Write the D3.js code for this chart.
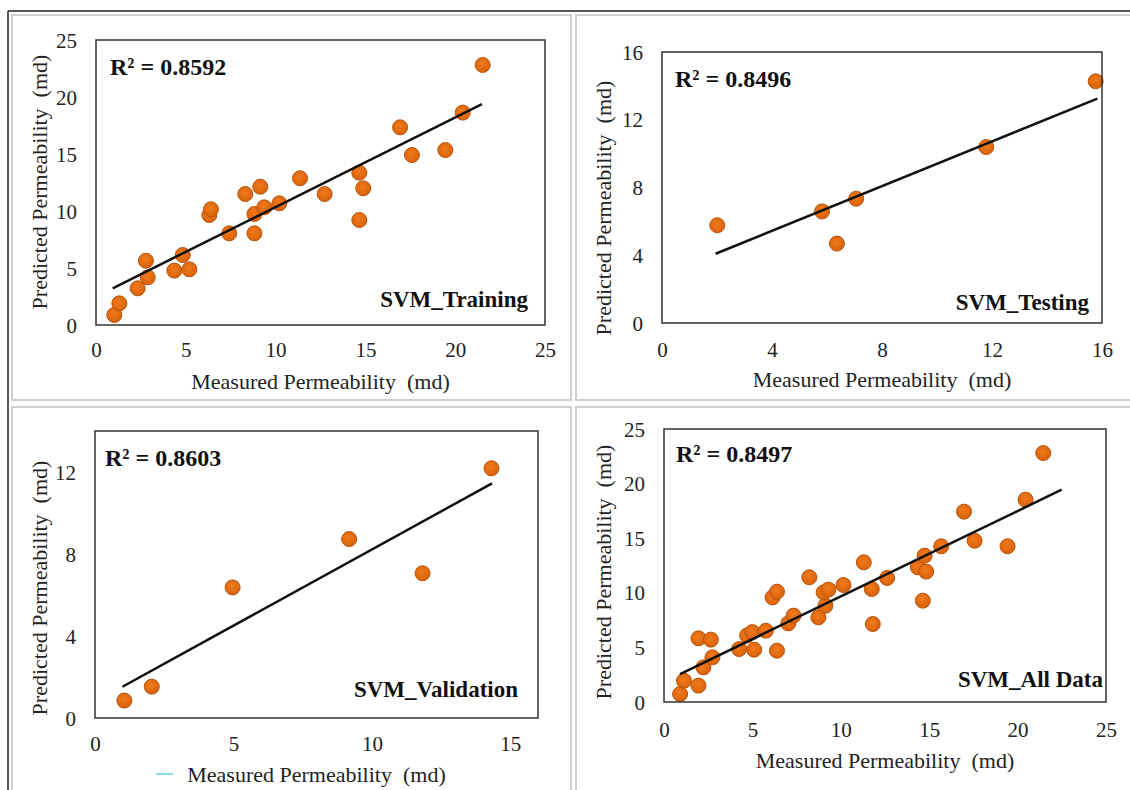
<!DOCTYPE html>
<html>
<head>
<meta charset="utf-8">
<script src="https://cdn.jsdelivr.net/npm/d3@7"></script>
<style>
  body { margin: 0; background: #fff; }
  svg { display: block; }
</style>
</head>
<body>
<div id="chart"></div>
<script>
// data (measured vs predicted permeability, md)
const trainX = [1.02, 1.30, 2.32, 2.78, 2.88, 4.36, 4.83, 5.20, 6.31, 6.40, 7.42, 8.31, 8.82, 8.82, 9.15, 9.37, 10.21, 11.36, 12.73, 14.66, 14.66, 14.88, 16.93, 17.59, 19.45, 20.42, 21.53];
const trainY = [0.88, 1.90, 3.22, 5.64, 4.18, 4.77, 6.14, 4.88, 9.65, 10.15, 8.04, 11.49, 9.74, 8.04, 12.13, 10.32, 10.67, 12.87, 11.49, 13.36, 9.21, 11.99, 17.34, 14.91, 15.35, 18.63, 22.81];

const testX = [2.01, 5.82, 6.36, 7.06, 11.79, 15.77];
const testY = [5.77, 6.59, 4.69, 7.34, 10.39, 14.27];

const validX = [1.06, 2.05, 4.97, 9.18, 11.83, 14.32];
const validY = [0.85, 1.53, 6.37, 8.73, 7.06, 12.18];

const allX = [0.91, 1.13, 1.95, 1.95, 2.23, 2.65, 2.74, 4.25, 4.70, 5.00, 5.10, 5.76, 6.39, 6.14, 6.39, 7.03, 7.33, 8.22, 8.73, 9.13, 9.03, 9.30, 10.15, 11.30, 11.75, 11.81, 12.62, 14.36, 14.74, 14.83, 14.64, 15.68, 16.97, 17.57, 19.43, 20.45, 21.45];
const allY = [0.73, 1.95, 1.50, 5.83, 3.17, 5.71, 4.09, 4.85, 6.10, 6.40, 4.79, 6.53, 4.70, 9.58, 10.10, 7.20, 7.91, 11.42, 7.75, 8.82, 10.04, 10.29, 10.71, 12.79, 10.35, 7.14, 11.36, 12.33, 13.40, 11.94, 9.28, 14.26, 17.43, 14.77, 14.26, 18.53, 22.80];

// linear trend lines as drawn (slope, intercept, x range)
const trendSlope = [0.786, 0.660, 0.743, 0.782];
const trendIntercept = [2.49, 2.80, 0.79, 1.85];
const trendFrom = [0.93, 1.95, 0.99, 0.91];
const trendTo = [21.49, 15.83, 14.34, 22.49];

const r2Labels = ["R\u00b2 = 0.8592", "R\u00b2 = 0.8496", "R\u00b2 = 0.8603", "R\u00b2 = 0.8497"];
const panelNames = ["SVM_Training", "SVM_Testing", "SVM_Validation", "SVM_All Data"];
const xMax = [25, 16, 16, 25];
const yMax = [25, 16, 14, 25];
const xTicks = [[0, 5, 10, 15, 20, 25], [0, 4, 8, 12, 16], [0, 5, 10, 15], [0, 5, 10, 15, 20, 25]];
const yTicks = [[0, 5, 10, 15, 20, 25], [0, 4, 8, 12, 16], [0, 4, 8, 12], [0, 5, 10, 15, 20, 25]];
const xTitle = "Measured Permeability\u00a0\u00a0(md)";
const yTitle = "Predicted Permeability\u00a0\u00a0(md)";

const seriesX = [trainX, testX, validX, allX];
const seriesY = [trainY, testY, validY, allY];

// layout of each panel's plot box in page pixels
const boxes = [
  { l: 96, r: 545, t: 40, b: 325, yTitleX: 39, yTitleY: 182, xTitleY: 389, xTickY: 357, r2X: 110, r2Y: 75, nameR: 528, nameY: 307 },
  { l: 662, r: 1102, t: 52, b: 323, yTitleX: 603, yTitleY: 208, xTitleY: 387, xTickY: 357, r2X: 675, r2Y: 87, nameR: 1089, nameY: 310 },
  { l: 95, r: 538, t: 431, b: 718, yTitleX: 39, yTitleY: 588, xTitleY: 782, xTickY: 751, r2X: 105, r2Y: 466, nameR: 518, nameY: 697 },
  { l: 664, r: 1106, t: 429, b: 702, yTitleX: 603, yTitleY: 572, xTitleY: 768, xTickY: 737, r2X: 676, r2Y: 462, nameR: 1103, nameY: 687 }
];

const width = 1130, height = 790;
const serif = "'Liberation Serif', 'Times New Roman', serif";

const svg = d3.select("#chart").append("svg")
  .attr("width", width)
  .attr("height", height)
  .style("font-family", serif);

const grad = svg.append("defs").append("radialGradient")
  .attr("id", "dot").attr("cx", "45%").attr("cy", "40%").attr("r", "60%");
grad.append("stop").attr("offset", "0%").attr("stop-color", "#f07a1c");
grad.append("stop").attr("offset", "100%").attr("stop-color", "#d9620b");

// outer frame (black on top and left) and light grey panel boxes
svg.append("line").attr("x1", 8).attr("x2", width).attr("y1", 11).attr("y2", 11)
  .attr("stroke", "#222").attr("stroke-width", 1.5);
svg.append("line").attr("x1", 8).attr("x2", 8).attr("y1", 11).attr("y2", height)
  .attr("stroke", "#222").attr("stroke-width", 1.5);

const cells = [[12, 15, 559, 385], [576, 15, 560, 385], [12, 407, 559, 390], [576, 407, 560, 390]];
svg.append("g").selectAll("rect").data(cells).join("rect")
  .attr("x", d => d[0]).attr("y", d => d[1])
  .attr("width", d => d[2]).attr("height", d => d[3])
  .attr("fill", "none").attr("stroke", "#cfcfcf").attr("stroke-width", 2);

boxes.forEach((bx, i) => {
  const x = d3.scaleLinear().domain([0, xMax[i]]).range([bx.l, bx.r]);
  const y = d3.scaleLinear().domain([0, yMax[i]]).range([bx.b, bx.t]);
  const g = svg.append("g");

  // axes: labels only, no tick marks or domain line
  g.append("g")
    .attr("transform", `translate(0,${bx.b})`)
    .call(d3.axisBottom(x).tickValues(xTicks[i]).tickSize(0).tickPadding(0))
    .call(a => a.select(".domain").remove())
    .selectAll("text")
    .attr("y", bx.xTickY - bx.b).attr("dy", 0)
    .attr("font-size", 21).attr("font-family", serif).attr("fill", "#222");

  g.append("g")
    .attr("transform", `translate(${bx.l},0)`)
    .call(d3.axisLeft(y).tickValues(yTicks[i]).tickSize(0).tickPadding(19))
    .call(a => a.select(".domain").remove())
    .selectAll("text")
    .attr("dy", "0.34em")
    .attr("font-size", 21).attr("font-family", serif).attr("fill", "#222");

  // points
  const pts = d3.zip(seriesX[i], seriesY[i]);
  g.append("g").selectAll("circle").data(pts).join("circle")
    .attr("cx", d => x(d[0]))
    .attr("cy", d => y(d[1]))
    .attr("r", 7.5)
    .attr("fill", "url(#dot)")
    .attr("stroke", "#b8540c")
    .attr("stroke-width", 1);

  // trend line
  const fx = [trendFrom[i], trendTo[i]];
  g.append("path")
    .datum(fx.map(v => [v, trendSlope[i] * v + trendIntercept[i]]))
    .attr("d", d3.line().x(d => x(d[0])).y(d => y(d[1])))
    .attr("stroke", "#111").attr("stroke-width", 2.5).attr("fill", "none");

  // plot frame
  g.append("rect")
    .attr("x", bx.l).attr("y", bx.t)
    .attr("width", bx.r - bx.l).attr("height", bx.b - bx.t)
    .attr("fill", "none").attr("stroke", "#333").attr("stroke-width", 1.5);

  g.append("text")
    .attr("x", bx.r2X).attr("y", bx.r2Y)
    .attr("font-size", 24).attr("font-weight", "bold").attr("fill", "#111")
    .text(r2Labels[i]);

  g.append("text")
    .attr("x", bx.nameR).attr("y", bx.nameY)
    .attr("text-anchor", "end")
    .attr("font-size", 23).attr("font-weight", "bold").attr("fill", "#111")
    .text(panelNames[i]);

  g.append("text")
    .attr("x", (bx.l + bx.r) / 2).attr("y", bx.xTitleY)
    .attr("text-anchor", "middle")
    .attr("font-size", 22).attr("fill", "#222")
    .text(xTitle);

  g.append("text")
    .attr("transform", `translate(${bx.yTitleX},${bx.yTitleY}) rotate(-90)`)
    .attr("text-anchor", "middle")
    .attr("dy", "0.35em")
    .attr("font-size", 22).attr("fill", "#222")
    .text(yTitle);
});

// small cyan stroke left over under the validation panel
svg.append("line").attr("x1", 156).attr("x2", 173).attr("y1", 774).attr("y2", 774)
  .attr("stroke", "#5fd3e3").attr("stroke-width", 1.5);
</script>
</body>
</html>
